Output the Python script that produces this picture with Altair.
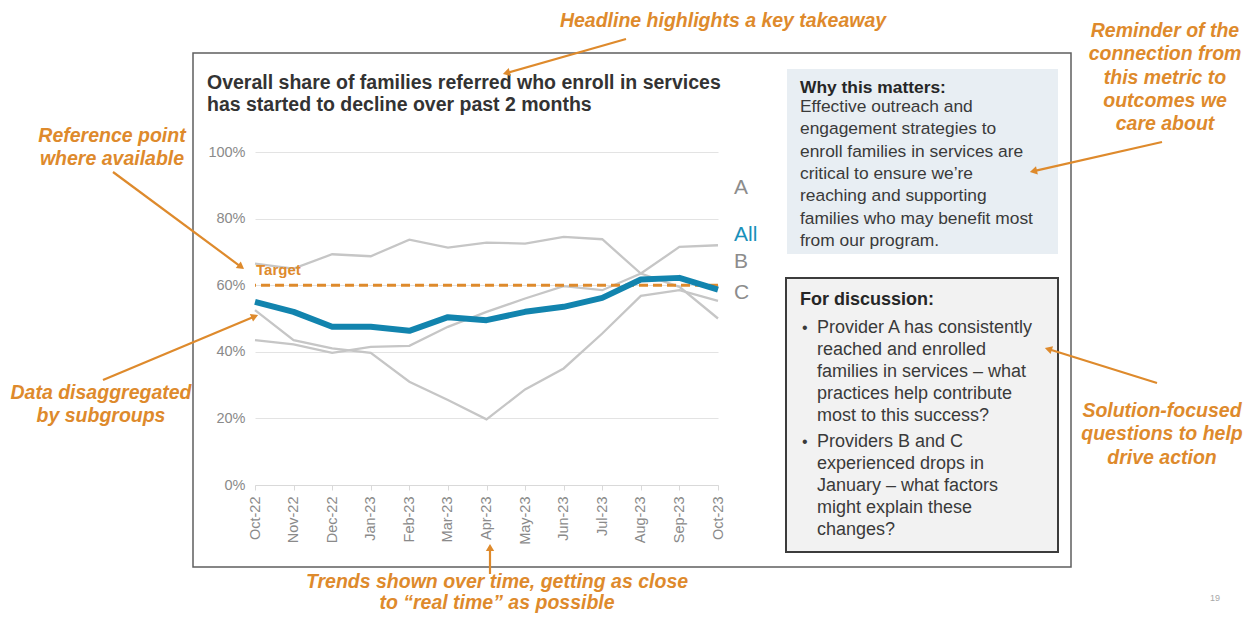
import math
import altair as alt
import pandas as pd

# ---------------- data ----------------
months = ["Oct-22", "Nov-22", "Dec-22", "Jan-23", "Feb-23", "Mar-23", "Apr-23",
          "May-23", "Jun-23", "Jul-23", "Aug-23", "Sep-23", "Oct-23"]
all_vals = [55.0, 52.0, 47.5, 47.5, 46.3, 50.4, 49.5, 52.0, 53.5, 56.2, 61.7, 62.2, 58.7]
a_vals = [66.5, 65.0, 69.3, 68.7, 73.7, 71.3, 72.8, 72.5, 74.5, 73.8, 63.5, 59.5, 50.0]
b_vals = [43.5, 42.2, 39.7, 41.5, 41.8, 47.5, 52.0, 56.0, 59.7, 58.5, 63.5, 71.5, 72.0]
c_vals = [52.5, 43.5, 41.0, 39.7, 31.0, 25.5, 19.7, 28.7, 35.0, 45.5, 56.8, 58.5, 55.3]
target_vals = [60]
y_ticks = [0, 20, 40, 60, 80, 100]

title_lines = ["Overall share of families referred who enroll in services",
               "has started to decline over past 2 months"]
why_head = "Why this matters:"
why_lines = ["Effective outreach and", "engagement strategies to",
             "enroll families in services are", "critical to ensure we\u2019re",
             "reaching and supporting", "families who may benefit most",
             "from our program."]
disc_head = "For discussion:"
bullet1 = ["Provider A has consistently", "reached and enrolled",
           "families in services \u2013 what", "practices help contribute",
           "most to this success?"]
bullet2 = ["Providers B and C", "experienced drops in",
           "January \u2013 what factors", "might explain these", "changes?"]
note_headline = "Headline highlights a key takeaway"
note_reminder = ["Reminder of the", "connection from", "this metric to",
                 "outcomes we", "care about"]
note_reference = ["Reference point", "where available"]
note_disagg = ["Data disaggregated", "by subgroups"]
note_solution = ["Solution-focused", "questions to help", "drive action"]
note_trends = ["Trends shown over time, getting as close",
               "to \u201creal time\u201d as possible"]

rows = []
for name, vals in [("A", a_vals), ("B", b_vals), ("C", c_vals), ("All", all_vals)]:
    for m, v in zip(months, vals):
        rows.append({"month": m, "value": v, "series": name})
df = pd.DataFrame(rows)
target_df = pd.DataFrame({"target": target_vals})
one = pd.DataFrame({"k": [0]})

# ---------------- layout ----------------
FONT = "Liberation Sans"
ORANGE = "#DE8A2C"
BLUE = "#1284AE"
GRAY_LINE = "#c6c6c6"
TXT = "#3a3a3a"
OX, OY = 255, 152          # page position of plot origin
PW, PH = 463, 333
PAD = {"left": OX - 8, "top": OY - 8, "right": 1237 - (OX - 8) - PW,
       "bottom": 606 - (OY - 8) - PH}


def txt(X, Y, text, size, color, weight="normal", style="normal",
        align="left", lh=None):
    props = dict(text=text, align=align, baseline="alphabetic", fontSize=size,
                 color=color, fontWeight=weight, fontStyle=style, font=FONT)
    if lh:
        props["lineHeight"] = lh
    return alt.Chart(one).mark_text(**props).encode(
        x=alt.value(X - OX), y=alt.value(Y - OY))


def box(X1, Y1, X2, Y2, fill, stroke=None, sw=0, fo=1):
    props = dict(fill=fill, fillOpacity=fo)
    if stroke:
        props.update(stroke=stroke, strokeWidth=sw)
    return alt.Chart(one).mark_rect(**props).encode(
        x=alt.value(X1 - OX), x2=alt.value(X2 - OX),
        y=alt.value(Y1 - OY), y2=alt.value(Y2 - OY))


def arrow(X1, Y1, X2, Y2):
    dx, dy = X2 - X1, Y2 - Y1
    L = math.hypot(dx, dy)
    ux, uy = dx / L, dy / L
    ang = math.degrees(math.atan2(dx, -dy)) % 360
    cx, cy = X2 - ux * 3.5, Y2 - uy * 3.5
    ex, ey = X2 - ux * 5, Y2 - uy * 5
    line = alt.Chart(one).mark_rule(color=ORANGE, strokeWidth=2.2).encode(
        x=alt.value(X1 - OX), x2=alt.value(ex - OX),
        y=alt.value(Y1 - OY), y2=alt.value(ey - OY))
    head = alt.Chart(one).mark_point(shape="triangle-up", filled=True, size=70,
                                     color=ORANGE, opacity=1).encode(
        x=alt.value(cx - OX), y=alt.value(cy - OY), angle=alt.value(ang))
    return [line, head]


x_enc = alt.X("month:N", sort=months,
              scale=alt.Scale(type="point", padding=0),
              axis=alt.Axis(title=None, labelAngle=-90, labelFontSize=14.5,
                            labelColor="#8a8a8a", labelFont=FONT,
                            domainColor="#d9d9d9", tickColor="#d9d9d9",
                            tickSize=5, labelPadding=6, grid=False))
y_enc = alt.Y("value:Q", scale=alt.Scale(domain=[0, 100]),
              axis=alt.Axis(values=y_ticks, labelExpr="datum.value + '%'",
                            title=None, domain=False, ticks=False,
                            labelColor="#8a8a8a", labelFontSize=14.5,
                            labelFont=FONT, labelPadding=10,
                            gridColor="#e3e3e3", gridWidth=1))

gray_lines = alt.Chart(df).transform_filter("datum.series != 'All'").mark_line(
    strokeWidth=2.3, color=GRAY_LINE).encode(x=x_enc, y=y_enc, detail="series:N")
all_line = alt.Chart(df).transform_filter("datum.series == 'All'").mark_line(
    strokeWidth=6, color=BLUE, strokeJoin="round").encode(x=x_enc, y=y_enc)
target_rule = alt.Chart(target_df).mark_rule(
    color=ORANGE, strokeWidth=3, strokeDash=[9, 5]).encode(
    y=alt.Y("target:Q", scale=alt.Scale(domain=[0, 100])))
target_lbl = alt.Chart(target_df).mark_text(
    text="Target", align="left", baseline="alphabetic", dy=-10, fontSize=15,
    fontWeight="bold", color=ORANGE, font=FONT).encode(
    x=alt.value(1), y=alt.Y("target:Q", scale=alt.Scale(domain=[0, 100])))

layers = [
    box(193, 53, 1071, 567, "white", "#5f5f5f", 1.5, 0),
    box(787, 69, 1058, 254, "#E8EEF3"),
    box(786, 278, 1058, 552, "#F2F2F2", "#3c3c3c", 2),
    gray_lines, target_rule, all_line, target_lbl,
    # series labels
    txt(734, 194, "A", 21, "#8c8c8c"),
    txt(734, 241, "All", 21, "#1a90ba"),
    txt(734, 268, "B", 21, "#8c8c8c"),
    txt(734, 299, "C", 21, "#8c8c8c"),
    # title
    txt(207, 89, title_lines, 19.5, "#333333", weight="bold", lh=22),
    # why box
    txt(800, 93, why_head, 17.4, "#262626", weight="bold"),
    txt(800, 112, why_lines, 17.4, TXT, lh=22.3),
    # discussion box
    txt(800, 305, disc_head, 18, "#262626", weight="bold"),
    txt(802, 333, "\u2022", 16, TXT),
    txt(817, 333, bullet1, 18, TXT, lh=22),
    txt(802, 447, "\u2022", 16, TXT),
    txt(817, 447, bullet2, 18, TXT, lh=22),
    # orange notes
    txt(723, 27, note_headline, 19.5, ORANGE, "bold", "italic", "center"),
    txt(1165, 37, note_reminder, 19.5, ORANGE, "bold", "italic", "center", 23.3),
    txt(112, 142, note_reference, 19.5, ORANGE, "bold", "italic", "center", 23),
    txt(101, 399, note_disagg, 19.5, ORANGE, "bold", "italic", "center", 23),
    txt(1162, 417, note_solution, 19.5, ORANGE, "bold", "italic", "center", 23.4),
    txt(497, 588, note_trends, 19.5, ORANGE, "bold", "italic", "center", 21),
    txt(1215, 601, "19", 9, "#a8a8a8", align="center"),
]
layers += arrow(626, 39, 503, 74)
layers += arrow(1162, 142, 1030, 172)
layers += arrow(113, 172, 244, 269)
layers += arrow(103, 380, 258, 315)
layers += arrow(1157, 383, 1045, 348)
layers += arrow(490, 574, 490, 544)

chart = alt.layer(*layers).properties(
    width=PW, height=PH,
    autosize=alt.AutoSizeParams(type="none"),
    padding=PAD,
    background="white",
).configure_view(strokeWidth=0)

chart.save("out.html", embed_options={"renderer": "svg", "actions": False})
